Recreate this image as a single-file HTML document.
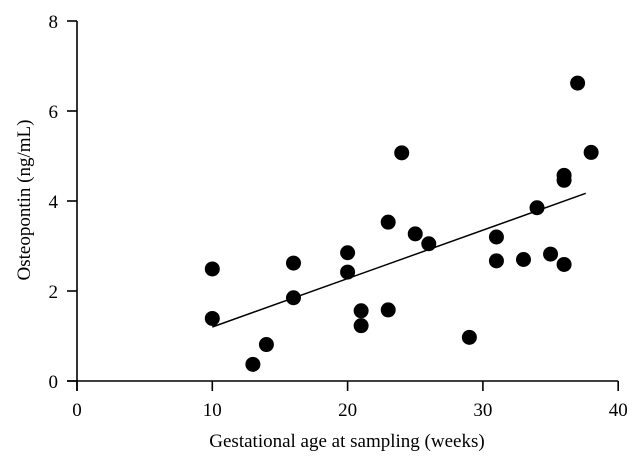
<!DOCTYPE html>
<html><head><meta charset="utf-8"><style>
body{margin:0;background:#fff}
svg text{font-family:"Liberation Serif",serif;font-size:19px;fill:#000}
</style></head><body>
<svg id="chart" width="640" height="468" xmlns="http://www.w3.org/2000/svg"></svg>
<script>
const xVals=[10,10,13,14,16,16,20,20,21,21,23,23,24,25,26,29,31,31,33,34,35,36,36,36,37,38];
const yVals=[2.49,1.39,0.37,0.81,2.62,1.85,2.85,2.42,1.56,1.23,3.53,1.58,5.07,3.27,3.05,0.97,3.2,2.67,2.7,3.85,2.82,4.57,4.46,2.59,6.62,5.08];
const xTicks=[0,10,20,30,40];
const yTicks=[0,2,4,6,8];
const fitLine=[[10,1.2],[37.6,4.17]];
const NS="http://www.w3.org/2000/svg";
const svg=document.getElementById('chart');
const X=v=>77+v*13.53, Y=v=>381-v*45;
function mk(t,a,txt){const e=document.createElementNS(NS,t);for(const k in a)e.setAttribute(k,a[k]);if(txt!=null)e.textContent=txt;svg.appendChild(e);return e;}
let e;
e=mk('line',{x1:67,y1:381,x2:X(40),y2:381,stroke:'#000','stroke-width':1.6});


e=mk('line',{x1:77,y1:Y(8),x2:77,y2:391,stroke:'#000','stroke-width':1.6});


xTicks.forEach(t=>{
 e=mk('line',{x1:X(t),y1:381,x2:X(t),y2:391,stroke:'#000','stroke-width':1.6});
 
 
 e=mk('text',{x:X(t),y:416,'text-anchor':'middle'},t);
 
 
});
yTicks.forEach(t=>{
 e=mk('line',{x1:67,y1:Y(t),x2:77,y2:Y(t),stroke:'#000','stroke-width':1.6});
 
 
 e=mk('text',{x:58,y:Y(t)+7,'text-anchor':'end'},t);
 
 
});
e=mk('line',{x1:X(fitLine[0][0]),y1:Y(fitLine[0][1]),x2:X(fitLine[1][0]),y2:Y(fitLine[1][1]),stroke:'#000','stroke-width':1.5});


xVals.forEach((x,i)=>{
 e=mk('circle',{cx:X(x),cy:Y(yVals[i]),r:7.5,fill:'#000'});
 
 
});
e=mk('text',{x:347,y:447,'text-anchor':'middle'},'Gestational age at sampling (weeks)');


e=mk('text',{x:0,y:0,'text-anchor':'middle',transform:'translate(30,200) rotate(-90)'},'Osteopontin (ng/mL)');


</script>
</body></html>
